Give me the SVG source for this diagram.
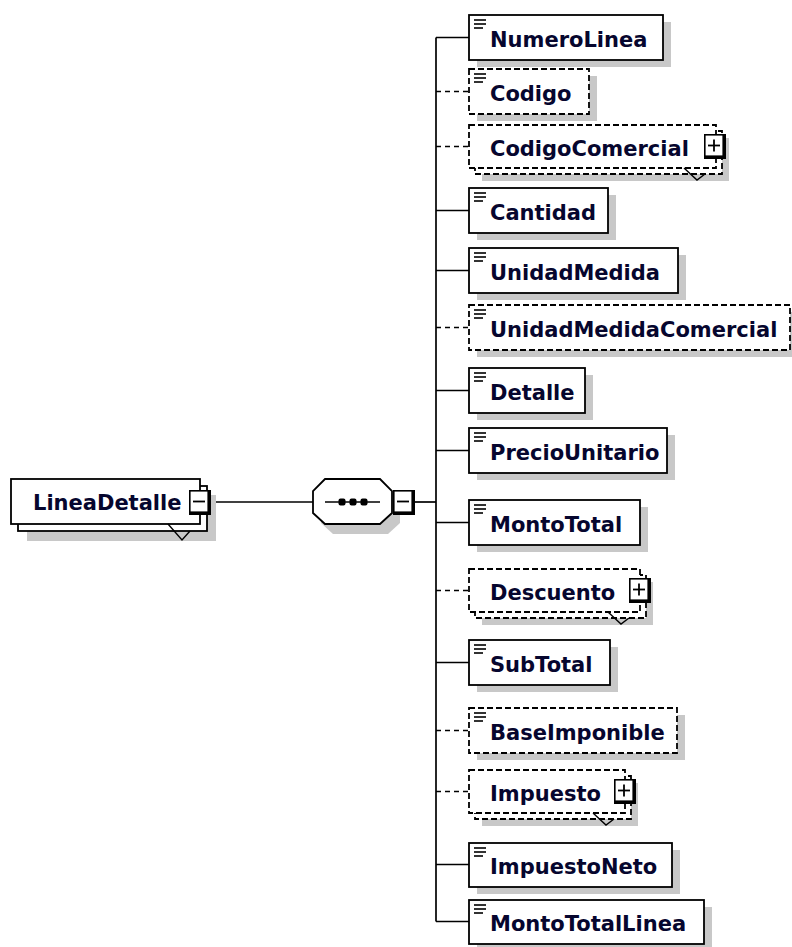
<svg xmlns="http://www.w3.org/2000/svg" xmlns:xlink="http://www.w3.org/1999/xlink" width="792" height="947" viewBox="0 0 792 947">
<style>
.box{fill:#fff;stroke:#000;stroke-width:1.8}
.dbox{fill:#fff;stroke:#000;stroke-width:1.8;stroke-dasharray:6 3}
.sh{fill:#c8c8c8}
.lbl{font-family:"DejaVu Sans","Liberation Sans",sans-serif;font-weight:bold;font-size:21px;fill:#06062e}
.ic{stroke:#000;stroke-width:1.6}
.conn{stroke:#000;stroke-width:1.7;fill:none}
.dconn{stroke:#000;stroke-width:1.7;fill:none;stroke-dasharray:5 4}
.notch{stroke:#000;stroke-width:1.4;fill:none}
</style>
<defs>
<g id="ico" class="ic">
<line x1="5" y1="5" x2="17" y2="5"/>
<line x1="5" y1="9" x2="17" y2="9"/>
<line x1="5" y1="13" x2="14" y2="13"/>
</g>
<g id="btnplus">
<rect x="0" y="0" width="22" height="25" fill="#000"/>
<rect x="1.6" y="1.6" width="16.8" height="19.8" fill="#fff"/>
<line x1="4" y1="11.5" x2="16" y2="11.5" stroke="#000" stroke-width="1.8"/>
<line x1="10" y1="5.5" x2="10" y2="17.5" stroke="#000" stroke-width="1.8"/>
</g>
<g id="btnminus">
<rect x="0" y="0" width="22" height="25" fill="#000"/>
<rect x="1.6" y="1.6" width="16.8" height="19.8" fill="#fff"/>
<line x1="4" y1="11.5" x2="16" y2="11.5" stroke="#000" stroke-width="1.8"/>
</g>
</defs>
<rect width="792" height="947" fill="#fff"/>

<g id="connectors">
<line class="conn" x1="211" y1="502" x2="313" y2="502"/>
<line class="conn" x1="415" y1="502" x2="436" y2="502"/>
<line class="conn" x1="436" y1="37.5" x2="436" y2="921.5"/>
<line class="conn" x1="436" y1="37.5" x2="469" y2="37.5"/>
<line class="dconn" x1="436" y1="91.5" x2="469" y2="91.5"/>
<line class="dconn" x1="436" y1="146.5" x2="469" y2="146.5"/>
<line class="conn" x1="436" y1="210.5" x2="469" y2="210.5"/>
<line class="conn" x1="436" y1="270.5" x2="469" y2="270.5"/>
<line class="dconn" x1="436" y1="327.5" x2="469" y2="327.5"/>
<line class="conn" x1="436" y1="390.5" x2="469" y2="390.5"/>
<line class="conn" x1="436" y1="450.5" x2="469" y2="450.5"/>
<line class="conn" x1="436" y1="522.5" x2="469" y2="522.5"/>
<line class="dconn" x1="436" y1="590.5" x2="469" y2="590.5"/>
<line class="conn" x1="436" y1="662.5" x2="469" y2="662.5"/>
<line class="dconn" x1="436" y1="730.5" x2="469" y2="730.5"/>
<line class="dconn" x1="436" y1="791.5" x2="469" y2="791.5"/>
<line class="conn" x1="436" y1="864.5" x2="469" y2="864.5"/>
<line class="conn" x1="436" y1="921.5" x2="469" y2="921.5"/>
</g>

<g id="LineaDetalle">
<rect class="sh" x="27" y="495" width="189" height="46"/>
<rect class="box" x="18" y="486" width="189" height="45"/>
<rect class="box" x="11" y="479" width="189" height="45"/>
<polyline class="notch" points="168,524 182,540 190,531"/>
<text class="lbl" x="33" y="510">LineaDetalle</text>
<use xlink:href="#btnminus" x="189" y="490"/>
</g>

<g id="sequence">
<polygon class="sh" points="333,489 388,489 400,501 400,523 388,534 333,534 321,523 321,501"/>
<polygon class="box" points="325,479 380,479 392,491 392,513 380,524 325,524 313,513 313,491"/>
<line x1="325" y1="502" x2="380" y2="502" stroke="#000" stroke-width="1.6"/>
<rect x="338.5" y="498.5" width="7" height="7" rx="2" fill="#000"/>
<rect x="349.5" y="498.5" width="7" height="7" rx="2" fill="#000"/>
<rect x="360.5" y="498.5" width="7" height="7" rx="2" fill="#000"/>
<use xlink:href="#btnminus" x="393" y="490"/>
</g>

<g id="NumeroLinea">
<rect class="sh" x="477" y="22" width="194" height="45"/>
<rect class="box" x="469" y="15" width="194" height="45"/>
<use xlink:href="#ico" x="469" y="15"/>
<text class="lbl" x="490" y="47">NumeroLinea</text>
</g>

<g id="Codigo">
<rect class="sh" x="477" y="76" width="120" height="45"/>
<rect class="dbox" x="469" y="69" width="120" height="45"/>
<use xlink:href="#ico" x="469" y="69"/>
<text class="lbl" x="490" y="101">Codigo</text>
</g>

<g id="CodigoComercial">
<rect class="sh" x="482" y="138" width="247" height="43"/>
<rect class="dbox" x="475" y="131" width="247" height="43"/>
<rect class="dbox" x="469" y="125" width="247" height="43"/>
<polyline class="notch" points="684,168 697,180 705,174"/>
<text class="lbl" x="490" y="156">CodigoComercial</text>
<use xlink:href="#btnplus" x="704" y="134"/>
</g>

<g id="Cantidad">
<rect class="sh" x="477" y="195" width="139" height="45"/>
<rect class="box" x="469" y="188" width="139" height="45"/>
<use xlink:href="#ico" x="469" y="188"/>
<text class="lbl" x="490" y="220">Cantidad</text>
</g>

<g id="UnidadMedida">
<rect class="sh" x="477" y="255" width="209" height="45"/>
<rect class="box" x="469" y="248" width="209" height="45"/>
<use xlink:href="#ico" x="469" y="248"/>
<text class="lbl" x="490" y="280">UnidadMedida</text>
</g>

<g id="UnidadMedidaComercial">
<rect class="sh" x="477" y="312" width="321" height="45"/>
<rect class="dbox" x="469" y="305" width="321" height="45"/>
<use xlink:href="#ico" x="469" y="305"/>
<text class="lbl" x="490" y="337">UnidadMedidaComercial</text>
</g>

<g id="Detalle">
<rect class="sh" x="477" y="375" width="116" height="45"/>
<rect class="box" x="469" y="368" width="116" height="45"/>
<use xlink:href="#ico" x="469" y="368"/>
<text class="lbl" x="490" y="400">Detalle</text>
</g>

<g id="PrecioUnitario">
<rect class="sh" x="477" y="435" width="198" height="45"/>
<rect class="box" x="469" y="428" width="198" height="45"/>
<use xlink:href="#ico" x="469" y="428"/>
<text class="lbl" x="490" y="460">PrecioUnitario</text>
</g>

<g id="MontoTotal">
<rect class="sh" x="477" y="507" width="171" height="45"/>
<rect class="box" x="469" y="500" width="171" height="45"/>
<use xlink:href="#ico" x="469" y="500"/>
<text class="lbl" x="490" y="532">MontoTotal</text>
</g>

<g id="Descuento">
<rect class="sh" x="482" y="582" width="171" height="43"/>
<rect class="dbox" x="475" y="575" width="171" height="43"/>
<rect class="dbox" x="469" y="569" width="171" height="43"/>
<polyline class="notch" points="608,612 621,624 629,618"/>
<text class="lbl" x="490" y="600">Descuento</text>
<use xlink:href="#btnplus" x="629" y="578"/>
</g>

<g id="SubTotal">
<rect class="sh" x="477" y="647" width="141" height="45"/>
<rect class="box" x="469" y="640" width="141" height="45"/>
<use xlink:href="#ico" x="469" y="640"/>
<text class="lbl" x="490" y="672">SubTotal</text>
</g>

<g id="BaseImponible">
<rect class="sh" x="477" y="715" width="208" height="45"/>
<rect class="dbox" x="469" y="708" width="208" height="45"/>
<use xlink:href="#ico" x="469" y="708"/>
<text class="lbl" x="490" y="740">BaseImponible</text>
</g>

<g id="Impuesto">
<rect class="sh" x="482" y="783" width="156" height="43"/>
<rect class="dbox" x="475" y="776" width="156" height="43"/>
<rect class="dbox" x="469" y="770" width="156" height="43"/>
<polyline class="notch" points="593,813 606,825 614,819"/>
<text class="lbl" x="490" y="801">Impuesto</text>
<use xlink:href="#btnplus" x="614" y="779"/>
</g>

<g id="ImpuestoNeto">
<rect class="sh" x="477" y="850" width="203" height="44"/>
<rect class="box" x="469" y="843" width="203" height="44"/>
<use xlink:href="#ico" x="469" y="843"/>
<text class="lbl" x="490" y="874">ImpuestoNeto</text>
</g>

<g id="MontoTotalLinea">
<rect class="sh" x="477" y="907" width="235" height="44"/>
<rect class="box" x="469" y="900" width="235" height="44"/>
<use xlink:href="#ico" x="469" y="900"/>
<text class="lbl" x="490" y="931">MontoTotalLinea</text>
</g>
</svg>
